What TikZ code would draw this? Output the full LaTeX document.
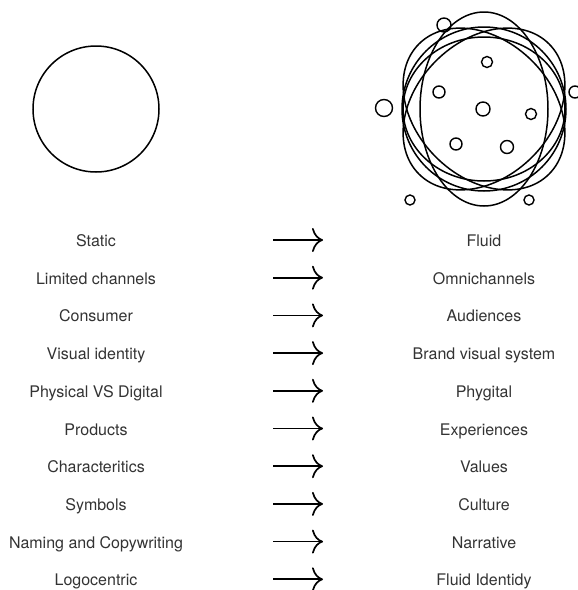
\documentclass[tikz,border=0pt]{standalone}
\usepackage{fontspec}
\setmainfont{TeX Gyre Heros}
\usepackage{xcolor}
\usetikzlibrary{arrows.meta}
\definecolor{txtgray}{HTML}{333333}

\begin{document}
\begin{tikzpicture}[x=1pt, y=-1pt, line width=1.5pt,
		item/.style={text=txtgray, anchor=base, inner sep=0pt, font=\fontsize{16}{19}\selectfont},
		dot/.style={line width=1.4pt},
		shiftarrow/.style={-{To[length=11pt, width=24pt]}, line width=1.7pt}]
		\useasboundingbox (0,0) rectangle (578,590);
		\newcommand{\colL}{96}
		\newcommand{\colR}{484}
		\newcommand{\rowgap}{37.7}
		\coordinate (S) at (\colL,109);
		\coordinate (C) at (\colR,109);
		
		% static brand
		\draw (S) circle[radius=63];
		
		% fluid brand
		\draw (C) circle[radius=82];
		\draw (C) ellipse[x radius=81, y radius=72];
		\draw (C) ellipse[x radius=64, y radius=97];
		\draw[rotate around={45:(C)}] (C) ellipse[x radius=92, y radius=68];
		\draw[rotate around={-45:(C)}] (C) ellipse[x radius=92, y radius=68];
		
		\foreach \px/\py/\r in {444/25/7, 487/62/5.5, 439/92/6, 483/109/7, 531/114/5.5,
			456/144/6, 507/147/6.5, 384/108/8.5, 575/92/6, 410/200/5, 529/200/5}
		\draw[dot] (\px,\py) circle[radius=\r];
		
		% rows
		\foreach \lft/\rgt [count=\i] in {Static/Fluid, Limited channels/Omnichannels,
			Consumer/Audiences, Visual identity/Brand visual system,
			Physical VS Digital/Phygital, Products/Experiences,
			Characteritics/Values, Symbols/Culture,
			Naming and Copywriting/Narrative, Logocentric/Fluid Identidy}
		{
			\pgfmathsetmacro{\yy}{241+\rowgap*(\i-1)}
			\node[item] (l\i) at (\colL,\yy+5.5) {\lft};
			\node[item] (r\i) at (\colR,\yy+5.5) {\rgt};
			\coordinate (s\i) at (273,\yy-1);
			\coordinate (e\i) at (323,\yy-1);
			\draw[shiftarrow] (s\i) -- (e\i);
		}
	\end{tikzpicture}
\end{document}
